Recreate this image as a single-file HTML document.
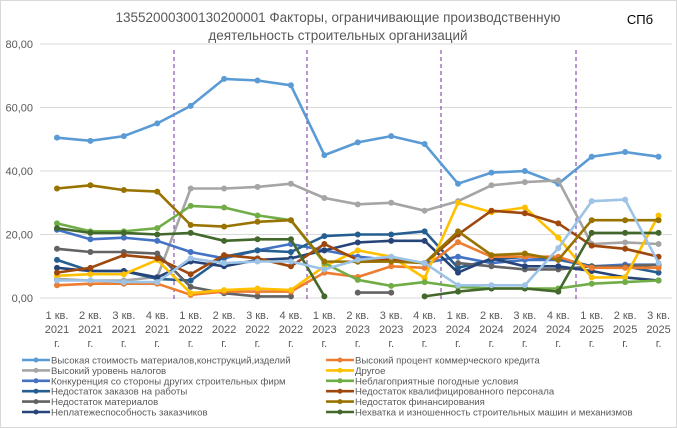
<!DOCTYPE html>
<html><head><meta charset="utf-8"><style>
body{margin:0;background:#fff;}
svg{display:block;font-family:"Liberation Sans","DejaVu Sans",sans-serif;}
</style></head><body>
<svg id="c" width="677" height="428" xmlns="http://www.w3.org/2000/svg"></svg>
<script>
const s=document.getElementById('c');
let h='<rect x="0.5" y="0.5" width="676" height="427" fill="#fff" stroke="#d9d9d9"/>';
h+='<text x="338" y="22" text-anchor="middle" font-size="13.5" fill="#595959">13552000300130200001 Факторы, ограничивающие производственную</text>';
h+='<text x="338" y="40" text-anchor="middle" font-size="13.5" fill="#595959">деятельность строительных организаций</text>';
h+='<text x="640" y="24" text-anchor="middle" font-size="13" fill="#000">СПб</text>';
const Y=v=>298-v*3.175, X=i=>57+i*33.42;
for(let v=0;v<=80;v+=20){h+=`<line x1="40" x2="672" y1="${Y(v)}" y2="${Y(v)}" stroke="#d9d9d9"/>`;
h+=`<text x="33" y="${Y(v)+4}" text-anchor="end" font-size="11" fill="#595959">${v},00</text>`;}
[174,307,441,576].forEach(x=>h+=`<line x1="${x}" x2="${x}" y1="50" y2="${y0=300}" stroke="#7030A0" stroke-dasharray="4,3" stroke-width="1"/>`);
const q=[];for(let y=2021;y<=2025;y++)for(let k=1;k<=4;k++)if(!(y==2025&&k==4))q.push([k,y]);
q.forEach((p,i)=>{const x=X(i);h+=`<text x="${x}" y="319" text-anchor="middle" font-size="11" fill="#595959">${p[0]} кв.</text><text x="${x}" y="333" text-anchor="middle" font-size="11" fill="#595959">${p[1]}</text><text x="${x}" y="347" text-anchor="middle" font-size="11" fill="#595959">г.</text>`;});
const N=null;
const S=[
["#5B9BD5",[50.5,49.5,51,55,60.5,69,68.5,67,45,49,51,48.5,36,39.5,40,36,44.5,46,44.5]],
["#A5A5A5",[6,5.5,5.5,6.6,34.5,34.5,35,36,31.5,29.5,30,27.5,30.5,35.5,36.5,37,17,17.5,17]],
["#4472C4",[21.5,18.5,19,18,14.5,12.5,15,17,15,13,12,11,13,11,12,12,10,10.5,10.5]],
["#255E91",[12,8.5,8.5,6,5.5,13,15,14.5,19.5,20,20,21,9.5,12,13,12.5,10,10,8]],
["#636363",[15.5,14.5,14.5,14,3.5,1.5,0.5,0.5,N,1.7,1.7,N,11,10,9,9,10,10,10.5]],
["#264478",[9.5,8.5,8.5,6.5,11.5,10,12,12.5,15,17.5,18,18,8,12.5,10,10,8.5,6.5,5.5]],
["#ED7D31",[4,4.5,4.5,4.5,1,2,2,2,8,6.6,10,9.5,17.6,13,13,13,9.5,9.5,9.5]],
["#FFC000",[7,7.5,7.5,12,1.5,2.5,3,2.5,10,15,13,6.3,30,27,28.5,19,6.5,6.5,26]],
["#70AD47",[23.5,21,21,22,29,28.5,26,24.5,11,5.7,3.8,5,3.5,3,3,3,4.5,5,5.5]],
["#9E480E",[8,9.5,13.5,12.5,7.5,13.5,12.5,10,17,12,12,11,20,27.5,26.7,23.5,16.5,15.5,13]],
["#997300",[34.5,35.5,34,33.5,23,22.5,24,24.5,11.5,11.4,11.5,11,21,13.5,14,12,24.5,24.5,24.5]],
["#43682B",[22,20.5,20.5,20,20.5,18,18.5,18.5,0.5,N,N,0.5,2,3,3,2,20.5,20.5,20.5]],
["#9DC3E6",[5.5,5.5,5,5,12.5,11,11.5,11.5,9,12,13,11,4,4,4,15.7,30.5,31,11]]
];
S.forEach(([c,d])=>{let p='',pen=false;d.forEach((v,i)=>{if(v==null){pen=false;return;}p+=(pen?'L':'M')+X(i).toFixed(1)+' '+Y(v).toFixed(1)+' ';pen=true;});
h+=`<path d="${p}" fill="none" stroke="${c}" stroke-width="2.6" stroke-linejoin="round"/>`;
d.forEach((v,i)=>{if(v!=null)h+=`<circle cx="${X(i)}" cy="${Y(v)}" r="3" fill="${c}"/>`;});});
const L=[["#5B9BD5","Высокая стоимость материалов,конструкций,изделий"],["#ED7D31","Высокий процент коммерческого кредита"],
["#A5A5A5","Высокий уровень налогов"],["#FFC000","Другое"],
["#4472C4","Конкуренция со стороны других строительных фирм"],["#70AD47","Неблагоприятные погодные условия"],
["#255E91","Недостаток заказов на работы"],["#9E480E","Недостаток квалифицированного персонала"],
["#636363","Недостаток материалов"],["#997300","Недостаток финансирования"],
["#264478","Неплатежеспособность заказчиков"],["#43682B","Нехватка и изношенность строительных машин и механизмов"]];
L.forEach(([c,t],i)=>{const col=i%2,row=Math.floor(i/2);const x0=col?326:22,y=360+row*10.4;
h+=`<line x1="${x0}" x2="${x0+28}" y1="${y}" y2="${y}" stroke="${c}" stroke-width="2.6"/><circle cx="${x0+14}" cy="${y}" r="2.5" fill="${c}"/>`;
h+=`<text x="${x0+29}" y="${y+3.5}" font-size="9.6" fill="#595959">${t}</text>`;});
s.innerHTML=h;
</script>
</body></html>
